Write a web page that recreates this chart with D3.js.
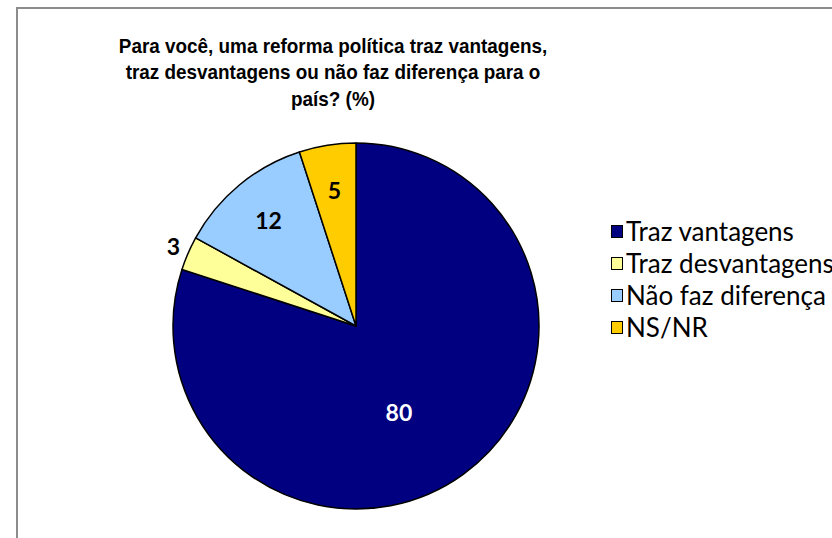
<!DOCTYPE html>
<html>
<head>
<meta charset="utf-8">
<script src="https://cdn.jsdelivr.net/npm/d3@7"></script>
<style>
  html, body { margin: 0; padding: 0; background: #fff; }
  svg { display: block; }
</style>
</head>
<body>
<svg id="chart" width="832" height="538"></svg>
<script>
const categories = ['Traz vantagens', 'Traz desvantagens', 'Não faz diferença', 'NS/NR'];
const values = [80, 3, 12, 5];
const colors = ['#000080', '#FFFF99', '#99CCFF', '#FFCC00'];
const titleLines = [
  'Para você, uma reforma política traz vantagens,',
  'traz desvantagens ou não faz diferença para o',
  'país? (%)'
];

const WIDTH = 832;
const HEIGHT = 538;
const CX = 356;
const CY = 326;
const R = 183;

const svg = d3.select('#chart');

// chart area frame (runs off the right and bottom edges)
svg.append('rect')
  .attr('x', 17)
  .attr('y', 8)
  .attr('width', WIDTH)
  .attr('height', HEIGHT)
  .attr('fill', '#fff')
  .attr('stroke', '#8c8c8c')
  .attr('stroke-width', 2);

// title, slightly condensed like the original
const TITLE_X = 333;
const title = svg.append('text')
  .attr('text-anchor', 'middle')
  .attr('transform', `translate(${TITLE_X},0) scale(0.9,1)`)
  .attr('font-family', '"Liberation Sans", Arial, sans-serif')
  .attr('font-weight', 'bold')
  .attr('font-size', '21px')
  .attr('fill', '#000');

titleLines.forEach((line, i) => {
  title.append('tspan')
    .attr('x', 0)
    .attr('y', 53 + i * 26.5)
    .text(line);
});

// pie
const pie = d3.pie().sort(null).value((d) => d.value);
const arcs = pie(categories.map((c, i) => ({ name: c, value: values[i], color: colors[i] })));

const arc = d3.arc().innerRadius(0).outerRadius(R);
const g = svg.append('g').attr('transform', `translate(${CX},${CY})`);

g.selectAll('path.slice')
  .data(arcs)
  .join('path')
  .attr('class', 'slice')
  .attr('d', arc)
  .attr('fill', (d) => d.data.color)
  .attr('stroke', '#000')
  .attr('stroke-width', 1.5)
  .attr('stroke-linejoin', 'round');

// labels: small slices go outside, big slice nudged inward
function labelPos(d) {
  const mid = (d.startAngle + d.endAngle) / 2;
  let r = R * 0.75;
  let a = mid;
  if (d.data.value < 5) r = R + 16;
  if (d.data.value > 50) { r = R * 0.53; a = mid + 0.17; }
  return [Math.sin(a) * r, -Math.cos(a) * r];
}

g.selectAll('text.lbl')
  .data(arcs)
  .join('text')
  .attr('class', 'lbl')
  .attr('transform', (d) => `translate(${labelPos(d)})`)
  .attr('text-anchor', 'middle')
  .attr('dy', '0.36em')
  .attr('font-family', 'Lato, "Open Sans", sans-serif')
  .attr('font-weight', 'bold')
  .attr('font-size', '23px')
  .attr('fill', (d) => (d.data.value > 50 ? '#fff' : '#000'))
  .text((d) => d.data.value);

// legend
const legend = svg.append('g').attr('transform', 'translate(611,232)');
const item = legend.selectAll('g.item')
  .data(categories)
  .join('g')
  .attr('class', 'item')
  .attr('transform', (d, i) => `translate(0,${i * 32})`);

item.append('rect')
  .attr('x', 0.5)
  .attr('y', -6.5)
  .attr('width', 11)
  .attr('height', 12)
  .attr('fill', (d, i) => colors[i])
  .attr('stroke', '#000')
  .attr('stroke-width', 1);

item.append('text')
  .attr('x', 15)
  .attr('dy', '0.36em')
  .attr('font-family', 'Lato, "Open Sans", sans-serif')
  .attr('font-size', '26px')
  .attr('fill', '#000')
  .text((d) => d);
</script>
</body>
</html>
